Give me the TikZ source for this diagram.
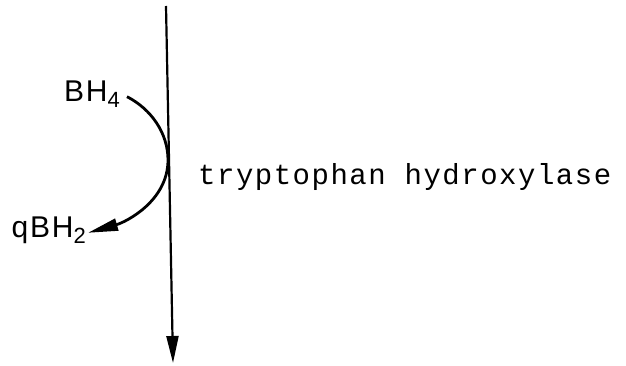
\documentclass[tikz,border=0pt]{standalone}
\usepackage{fontspec}
\newfontfamily\cofont{Liberation Sans}[LetterSpace=6]
\newfontfamily\enzfont{Liberation Mono}[LetterSpace=5.2]
\usetikzlibrary{arrows.meta}
\newcommand{\lowsub}[1]{\raisebox{-6pt}{\fontsize{22}{22}\selectfont #1}}

\begin{document}
\begin{tikzpicture}[x=1pt, y=-1pt,
    cofactor/.style={font=\cofont\fontsize{30}{30}\selectfont, inner ysep=0pt},
    enzyme/.style={font=\enzfont\fontsize{29}{29}\selectfont, inner sep=0pt},
    flow/.style={line width=2.2pt, -{Triangle[length=27pt, width=12pt]}},
    cycle/.style={line width=2.8pt, -{Triangle[length=30pt, width=12pt]}}]
    \useasboundingbox (0,0) rectangle (626,366);
    % main reaction axis
    \coordinate (top) at (166,6);
    \coordinate (bottom) at (173,363);
    \draw[flow] (top) -- (bottom);
    % cofactor
    \node[cofactor, inner xsep=7pt, anchor=base east] (bh4) at (127,102) {BH\lowsub{4}};
    \node[cofactor, inner xsep=2pt, anchor=base east] (qbh2) at (88,237) {qBH\lowsub{2}};
    \draw[cycle] ([yshift=-2pt]bh4.east) .. controls (151,109) and (168,133) .. (168,160)
        .. controls (168,201) and (126,222) .. ([yshift=-3pt]qbh2.east);
    % enzyme
    \node[enzyme, anchor=base west] (enz) at (198,185) {tryptophan hydroxylase};
\end{tikzpicture}
\end{document}
